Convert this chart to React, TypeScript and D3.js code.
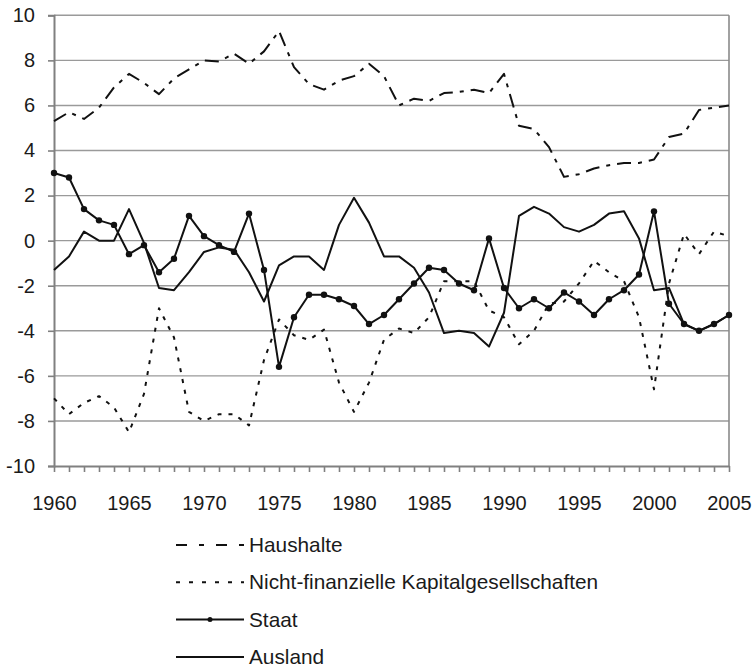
import React, { useEffect, useRef } from 'react';
import * as d3 from 'd3';

const years = d3.range(1960, 2006);
const xTickYears = [1960, 1965, 1970, 1975, 1980, 1985, 1990, 1995, 2000, 2005];
const yTicks = [-10, -8, -6, -4, -2, 0, 2, 4, 6, 8, 10];

const haushalte = [
  5.3, 5.7, 5.4, 5.9, 6.8, 7.4, 7.0, 6.5, 7.2, 7.6,
  8.0, 7.95, 8.3, 7.85, 8.4, 9.3, 7.7, 6.95, 6.7, 7.1,
  7.3, 7.85, 7.3, 6.0, 6.3, 6.2, 6.55, 6.6, 6.7, 6.55,
  7.4, 5.1, 4.95, 4.15, 2.83, 2.95, 3.2, 3.35, 3.45, 3.45,
  3.6, 4.6, 4.75, 5.8, 5.9, 6.0,
];
const nichtFinanzielle = [
  -7.0, -7.7, -7.2, -6.9, -7.4, -8.5, -6.8, -3.0, -4.3, -7.6,
  -8.0, -7.7, -7.7, -8.2, -5.3, -3.5, -4.2, -4.4, -3.95, -6.3,
  -7.6, -6.3, -4.4, -3.9, -4.1, -3.4, -1.8, -1.8, -1.8, -3.1,
  -3.4, -4.6, -4.0, -2.8, -2.7, -1.9, -0.9, -1.4, -1.8, -3.4,
  -6.6, -1.9, 0.3, -0.6, 0.4, 0.2,
];
const staat = [
  3.0, 2.8, 1.4, 0.9, 0.7, -0.6, -0.2, -1.4, -0.8, 1.1,
  0.2, -0.2, -0.5, 1.2, -1.3, -5.6, -3.4, -2.4, -2.4, -2.6,
  -2.9, -3.7, -3.3, -2.6, -1.9, -1.2, -1.3, -1.9, -2.2, 0.1,
  -2.1, -3.0, -2.6, -3.0, -2.3, -2.7, -3.3, -2.6, -2.2, -1.5,
  1.3, -2.8, -3.7, -4.0, -3.7, -3.3,
];
const ausland = [
  -1.3, -0.7, 0.4, 0.0, 0.0, 1.4, -0.1, -2.1, -2.2, -1.4,
  -0.5, -0.3, -0.4, -1.4, -2.7, -1.1, -0.7, -0.7, -1.3, 0.7,
  1.9, 0.8, -0.7, -0.7, -1.2, -2.3, -4.1, -4.0, -4.1, -4.7,
  -3.2, 1.1, 1.5, 1.2, 0.6, 0.4, 0.7, 1.2, 1.3, 0.1,
  -2.2, -2.1, -3.7, -4.0, -3.7, -3.3,
];

const seriesNames = ['Haushalte', 'Nicht-finanzielle Kapitalgesellschaften', 'Staat', 'Ausland'];
const seriesValues = [haushalte, nichtFinanzielle, staat, ausland];
const lineDash = ['14,7,4,7', '4,7', null, null];
const legendDash = ['11,12,5,12', '4,9', null, null];

const FONT = '"Liberation Sans", Arial, sans-serif';

export default function App() {
  const ref = useRef<SVGSVGElement>(null);

  useEffect(() => {
    const svg = d3.select(ref.current);
    svg.selectAll('*').remove();

    const left = 54, right = 729, top = 15.3, bottom = 466;
    const x = d3.scaleLinear().domain([1960, 2005]).range([left, right]);
    const y = d3.scaleLinear().domain([-10, 10]).range([bottom, top]);

    // gridlines
    svg.append('g')
      .selectAll('line')
      .data(yTicks.filter(t => t > -10))
      .enter()
      .append('line')
      .attr('x1', left).attr('x2', right)
      .attr('y1', d => y(d)).attr('y2', d => y(d))
      .attr('stroke', '#9a9a9a')
      .attr('stroke-width', 1.4);

    // right border
    svg.append('line')
      .attr('x1', right).attr('x2', right)
      .attr('y1', top).attr('y2', bottom)
      .attr('stroke', '#8a8a8a').attr('stroke-width', 1.6);

    // y axis
    const yAxis = svg.append('g').attr('transform', `translate(${left},0)`)
      .call(d3.axisLeft(y).tickValues(yTicks).tickSize(6).tickFormat(d => String(d)));
    yAxis.select('.domain').attr('stroke', '#808080').attr('stroke-width', 2);
    yAxis.selectAll('.tick line').attr('stroke', '#808080').attr('stroke-width', 1.6);
    yAxis.selectAll('.tick text')
      .attr('x', -19)
      .style('font-family', FONT).style('font-size', '20px').attr('fill', '#1a1a1a');

    // x axis
    const xAxis = svg.append('g').attr('transform', `translate(0,${bottom})`)
      .call(d3.axisBottom(x).tickValues(years).tickSize(6).tickSizeOuter(0)
        .tickFormat(d => (xTickYears.includes(+d) ? String(d) : '')));
    xAxis.select('.domain').attr('stroke', '#808080').attr('stroke-width', 2);
    xAxis.selectAll('.tick line').attr('stroke', '#808080').attr('stroke-width', 1.6);
    xAxis.selectAll('.tick text')
      .attr('y', 44).attr('dy', 0)
      .style('font-family', FONT).style('font-size', '20px').attr('fill', '#1a1a1a');

    // series lines
    const line = d3.line<number>()
      .x((d, i) => x(years[i]))
      .y(d => y(d));

    seriesValues.forEach((vals, s) => {
      const p = svg.append('path')
        .datum(vals)
        .attr('d', line)
        .attr('fill', 'none')
        .attr('stroke', '#111')
        .attr('stroke-width', 2)
        .attr('stroke-linejoin', 'round');
      if (lineDash[s]) p.attr('stroke-dasharray', lineDash[s] as string);
    });

    // markers for Staat
    svg.append('g')
      .selectAll('circle')
      .data(staat)
      .enter()
      .append('circle')
      .attr('cx', (d, i) => x(years[i]))
      .attr('cy', d => y(d))
      .attr('r', 3.2)
      .attr('fill', '#111');

    // legend
    const lg = svg.append('g');
    seriesNames.forEach((name, i) => {
      const ly = 545 + i * 37.3;
      const l = lg.append('line')
        .attr('x1', 176).attr('x2', 244)
        .attr('y1', ly).attr('y2', ly)
        .attr('stroke', '#111').attr('stroke-width', 2);
      if (legendDash[i]) l.attr('stroke-dasharray', legendDash[i] as string);
      if (name === 'Staat') {
        lg.append('circle').attr('cx', 210).attr('cy', ly).attr('r', 2.5).attr('fill', '#111');
      }
      lg.append('text')
        .attr('x', 249).attr('y', ly + 7)
        .style('font-family', FONT).style('font-size', '20.8px')
        .attr('fill', '#1a1a1a')
        .text(name);
    });
  }, []);

  return (
    <svg ref={ref} width={752} height={668}
      style={{ position: 'absolute', left: 0, top: 0, background: '#fff' }} />
  );
}
